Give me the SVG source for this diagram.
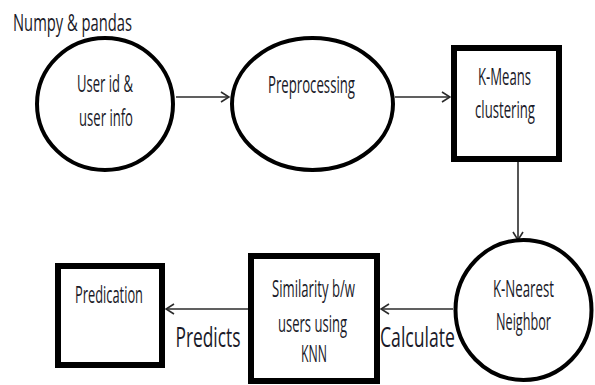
<svg xmlns="http://www.w3.org/2000/svg" width="595" height="385" viewBox="0 0 595 385">
  <style>
    .oval { fill: #ffffff; stroke: #000000; stroke-width: 4; }
    .box { fill: #ffffff; stroke: #000000; stroke-width: 6; }
    .edge { fill: none; stroke: #2b2b2b; stroke-width: 1.6; }
    text { font-family: "Open Sans", "Liberation Sans", sans-serif; fill: #1a1a28; text-anchor: middle; }
    .lbl { font-size: 23px; }
    .big { font-size: 27px; }
  </style>
  <defs>
    <marker id="arrow" viewBox="0 0 10 12" refX="9" refY="6" markerWidth="10" markerHeight="12" markerUnits="userSpaceOnUse" orient="auto">
      <path d="M1,1 L9,6 L1,11" fill="none" stroke="#2b2b2b" stroke-width="1.6"/>
    </marker>
  </defs>
  <rect width="595" height="385" fill="#ffffff"/>

  <text id="lib-note" class="lbl" x="72.5" y="31" textLength="119" lengthAdjust="spacingAndGlyphs">Numpy &amp; pandas</text>

  <g id="connectors">
    <line class="edge" x1="176" y1="97" x2="229" y2="97" marker-end="url(#arrow)"/>
    <line class="edge" x1="395" y1="97" x2="450" y2="97" marker-end="url(#arrow)"/>
    <line class="edge" x1="518" y1="145" x2="518" y2="240" marker-end="url(#arrow)"/>
    <line class="edge" x1="453" y1="309" x2="381" y2="309" marker-end="url(#arrow)"/>
    <line class="edge" x1="248" y1="309" x2="166" y2="309" marker-end="url(#arrow)"/>
    <text class="big" x="208" y="347" textLength="65" lengthAdjust="spacingAndGlyphs">Predicts</text>
    <text class="big" x="417.5" y="347" textLength="75" lengthAdjust="spacingAndGlyphs">Calculate</text>
  </g>

  <g id="user-info">
    <ellipse class="oval" cx="105" cy="104" rx="68" ry="66"/>
    <text class="lbl" x="105" y="92" textLength="56" lengthAdjust="spacingAndGlyphs">User id &amp;</text>
    <text class="lbl" x="106" y="126" textLength="54" lengthAdjust="spacingAndGlyphs">user info</text>
  </g>

  <g id="preprocessing">
    <ellipse class="oval" cx="312.5" cy="104" rx="80.5" ry="66"/>
    <text class="lbl" x="311.5" y="93" textLength="87" lengthAdjust="spacingAndGlyphs">Preprocessing</text>
  </g>

  <g id="kmeans">
    <rect class="box" x="454" y="48" width="105" height="111"/>
    <text class="lbl" x="504.5" y="85" textLength="53" lengthAdjust="spacingAndGlyphs">K-Means</text>
    <text class="lbl" x="505" y="118" textLength="60" lengthAdjust="spacingAndGlyphs">clustering</text>
  </g>

  <g id="knn">
    <ellipse class="oval" cx="523.5" cy="310" rx="68" ry="70"/>
    <text class="lbl" x="523.5" y="297" textLength="61" lengthAdjust="spacingAndGlyphs">K-Nearest</text>
    <text class="lbl" x="523.5" y="330" textLength="55" lengthAdjust="spacingAndGlyphs">Neighbor</text>
  </g>

  <g id="similarity">
    <rect class="box" x="251" y="256" width="126" height="125"/>
    <text class="lbl" x="313.5" y="297" textLength="83" lengthAdjust="spacingAndGlyphs">Similarity b/w</text>
    <text class="lbl" x="312.5" y="332" textLength="69" lengthAdjust="spacingAndGlyphs">users using</text>
    <text class="lbl" x="314" y="362" textLength="26" lengthAdjust="spacingAndGlyphs">KNN</text>
  </g>

  <g id="predication">
    <rect class="box" x="58" y="266" width="104" height="99"/>
    <text class="lbl" x="109" y="303" textLength="68" lengthAdjust="spacingAndGlyphs">Predication</text>
  </g>
</svg>
